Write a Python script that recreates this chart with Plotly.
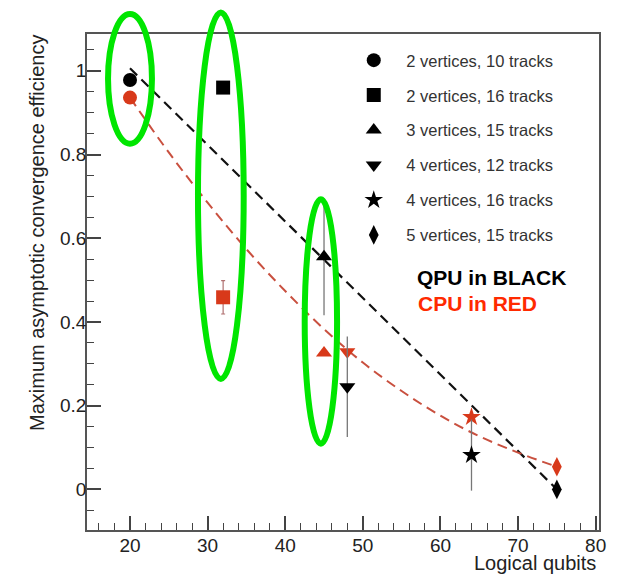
import plotly.graph_objects as go

# ---- data ----
categories = ["2 vertices, 10 tracks", "2 vertices, 16 tracks", "3 vertices, 15 tracks",
              "4 vertices, 12 tracks", "4 vertices, 16 tracks", "5 vertices, 15 tracks"]
symbols = ["circle", "square", "triangle-up", "triangle-down", "star", "diamond-tall"]
qubits = [20, 32, 45, 48, 64, 75]
qpu_eff = [0.978, 0.960, 0.556, 0.245, 0.082, 0.0]
qpu_err = [0.0, 0.012, 0.14, 0.12, 0.085, 0.0]
cpu_eff = [0.936, 0.459, 0.326, 0.329, 0.173, 0.054]
cpu_err = [0.0, 0.04, 0.0, 0.0, 0.0, 0.0]

# fitted trend lines
qpu_fit_x = [20, 75]
qpu_fit_y = [1.006, 0.0]
cpu_fit_x = [20, 25, 30, 35, 40, 45, 50, 55, 60, 65, 70, 75]
cpu_fit_y = [0.936, 0.805, 0.685, 0.574, 0.474, 0.383, 0.303, 0.235, 0.176, 0.127, 0.088, 0.054]

# highlight ellipses (data units): x0, x1, y0, y1
ellipses = [(17.17, 22.83, 0.826, 1.136),
            (28.76, 34.65, 0.264, 1.1395),
            (42.51, 46.68, 0.109, 0.693)]

XR = [14.46, 80.43]
YR = [-0.097, 1.088]

BLACK = "#000000"
RED = "#d8391a"
RED_LINE = "#c9503f"
FONT = "Liberation Sans, Arial, sans-serif"

fig = go.Figure()

fig.add_trace(go.Scatter(x=qpu_fit_x, y=qpu_fit_y, mode="lines", showlegend=False,
                         line=dict(color="#111111", width=2.2, dash="10px,6px"), hoverinfo="skip"))
fig.add_trace(go.Scatter(x=cpu_fit_x, y=cpu_fit_y, mode="lines", showlegend=False,
                         line=dict(color=RED_LINE, width=2, dash="10px,6px", shape="spline"),
                         hoverinfo="skip"))

for i, name in enumerate(categories):
    fig.add_trace(go.Scatter(
        x=[qubits[i]], y=[cpu_eff[i]], mode="markers", showlegend=False,
        marker=dict(symbol=symbols[i], size=14, color=RED, line=dict(width=0)),
        error_y=dict(type="data", array=[cpu_err[i]], visible=True, color="#b07070",
                     thickness=1.2, width=2),
    ))
    fig.add_trace(go.Scatter(
        x=[qubits[i]], y=[qpu_eff[i]], mode="markers", name=name, legendgroup=name,
        marker=dict(symbol=symbols[i], size=14, color=BLACK, line=dict(width=0)),
        error_y=dict(type="data", array=[qpu_err[i]], visible=True, color="#777777",
                     thickness=1.3, width=0),
    ))

def px(x):
    return (x - XR[0]) / (XR[1] - XR[0])

def py(y):
    return (y - YR[0]) / (YR[1] - YR[0])

shapes = []
for (x0, x1, y0, y1) in ellipses:
    shapes.append(dict(type="circle", xref="paper", yref="paper",
                       x0=px(x0), x1=px(x1), y0=py(y0), y1=py(y1),
                       line=dict(color="#00e600", width=6), layer="above"))

axis_common = dict(showgrid=False, zeroline=False, showline=True, mirror=True,
                   linecolor="#555555", linewidth=1.5, ticks="inside", ticklen=14,
                   tickwidth=1.5, tickcolor="#444444",
                   tickfont=dict(family=FONT, size=19, color="#222222"))

fig.update_layout(
    width=610, height=566,
    margin=dict(l=79, r=19, t=26, b=44),
    paper_bgcolor="white", plot_bgcolor="white",
    xaxis=dict(range=XR, dtick=10, tick0=0, ticklabelstandoff=-3,
               minor=dict(ticks="inside", ticklen=7, dtick=2, tickcolor="#444444", tickwidth=1.2),
               **axis_common),
    yaxis=dict(range=YR, dtick=0.2, tick0=0, ticklabelstandoff=-5,
               minor=dict(ticks="inside", ticklen=7, dtick=0.05, tickcolor="#444444", tickwidth=1.2),
               **axis_common),
    legend=dict(x=0.4966, y=0.982, xanchor="left", yanchor="top", bgcolor="rgba(0,0,0,0)",
                borderwidth=0, tracegroupgap=10.5, itemwidth=55,
                font=dict(family=FONT, size=16.5, color="#333333")),
    shapes=shapes,
    annotations=[
        dict(text="Logical qubits", xref="paper", yref="paper", x=0.998, y=-0.0665,
             xanchor="right", yanchor="middle", showarrow=False,
             font=dict(family=FONT, size=20, color="#222222")),
        dict(text="Maximum asymptotic convergence efficiency", xref="paper", yref="paper",
             x=-0.0977, y=1.002, xanchor="center", yanchor="top", textangle=-90, showarrow=False,
             font=dict(family=FONT, size=20, color="#222222")),
        dict(text="<b>QPU in BLACK</b>", xref="paper", yref="paper",
             x=(415 - 87) / 512, y=(530 - 277) / 496, xanchor="left", yanchor="middle",
             showarrow=False,
             font=dict(family=FONT, size=21, color="#000000")),
        dict(text="<b>CPU in RED</b>", xref="paper", yref="paper",
             x=(416 - 87) / 512, y=(530 - 303) / 496, xanchor="left", yanchor="middle",
             showarrow=False,
             font=dict(family=FONT, size=21, color="#ff2a00")),
    ],
)

fig.write_html("out.html")
